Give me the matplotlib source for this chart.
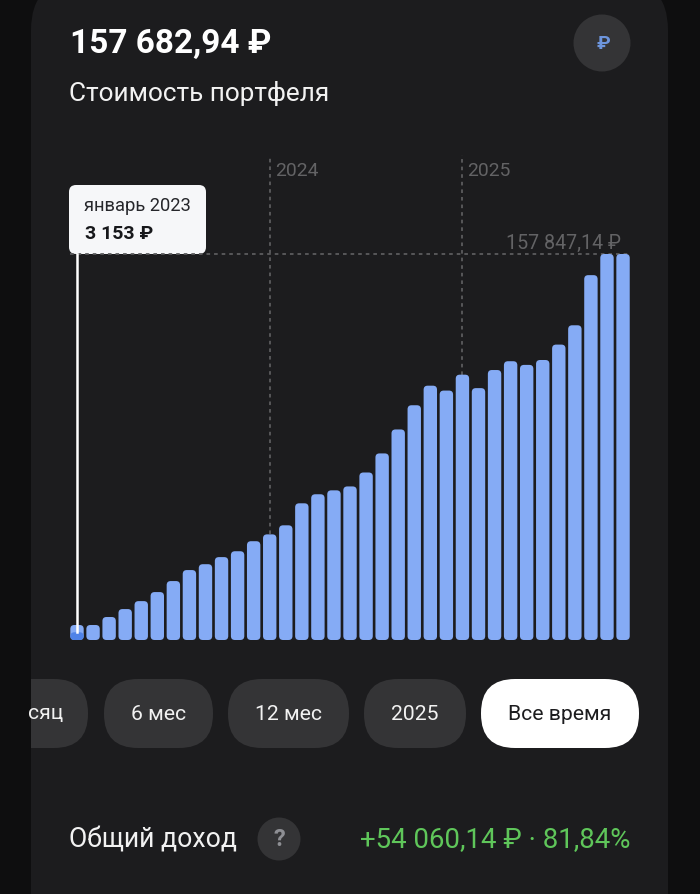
import matplotlib
matplotlib.use("Agg")
import matplotlib.pyplot as plt
from matplotlib.patches import FancyBboxPatch, Ellipse, Rectangle

plt.rcParams['font.family'] = ['Roboto', 'DejaVu Sans']

W, H = 700, 894

# month-end portfolio values, rubles (Jan 2023 .. Nov 2025)
values = [6130, 6130, 9400, 12650, 15900, 19600, 24100, 28600, 31000, 33900,
          36300, 40400, 43200, 46900, 55900, 59600, 61200, 62800,
          68500, 76300, 86100, 96000, 104000, 102000, 108500, 103000,
          110400, 114000, 112500, 114500, 120800, 128700, 149200, 157847, 157847]
selected_value = 3153
max_value = 157847
year_marks = [(12, "2024"), (24, "2025")]
periods = ["сяц", "6 мес", "12 мес", "2025", "Все время"]

BG = '#1c1c1e'
BAR = '#85abf5'
BAR_SEL = '#4f83e8'
GRID = '#5c5c5e'
MUTED = '#636365'
PILL = '#343436'

fig = plt.figure(figsize=(W/100, H/100), dpi=100, facecolor='#0e0e0f')

# UI layer in pixel coordinates
ui = fig.add_axes([0, 0, 1, 1])
ui.set_xlim(0, W); ui.set_ylim(H, 0); ui.axis('off')
ui.add_patch(FancyBboxPatch((31, -20), 637, H+100, boxstyle="round,pad=0,rounding_size=50",
                            fc=BG, ec='none'))

def T(x, y, s, size, color, weight='normal', ha='left', z=6):
    ui.text(x, y, s, fontsize=size, color=color, fontweight=weight, ha=ha, va='center', zorder=z)

T(70, 44, "157 682,94 ₽", 24, '#ffffff', 'bold')
T(69, 93, "Стоимость портфеля", 18.8, '#f2f2f2')
ui.add_patch(Ellipse((602, 43), 57, 57, fc=PILL, ec='none'))
T(603, 44, "₽", 14, '#6d95dd', 'bold', 'center')

# chart axes: x = month index, y = rubles
step = 16.06
x_left, x_right = 60, 640
y_bot, y_top = 640, 254
chart = fig.add_axes([x_left/W, 1-y_bot/H, (x_right-x_left)/W, (y_bot-y_top)/H])
chart.set_xlim((x_left-77)/step, (x_right-77)/step)
chart.set_ylim(0, max_value)
chart.axis('off')
chart.patch.set_alpha(0)

ypx = max_value/(y_bot-y_top)
bw = 13.4/step
aspect = ypx*step
def rbar(i, v, color, z=3):
    chart.add_patch(FancyBboxPatch((i-bw/2, 0), bw, v,
                    boxstyle=f"round,pad=0,rounding_size={4/step}",
                    mutation_aspect=aspect, fc=color, ec='none', zorder=z, clip_on=False))

for i, v in enumerate(values):
    rbar(i, v, BAR)
rbar(0, selected_value, BAR_SEL, 4)

# dashed guides
for idx, label in year_marks:
    chart.plot([idx, idx], [values[idx], max_value*1.2565], color=GRID, lw=1.3,
               ls=(0, (2, 2.2)), zorder=2, clip_on=False)
    ui.text(77+idx*step+5, 171, label, fontsize=13.9, color=MUTED, va='center', zorder=6)
chart.plot([-0.45, 34.45], [max_value, max_value], color=GRID, lw=1.3, ls=(0, (2, 2.2)),
           zorder=2, clip_on=False)
T(621, 243, "157 847,14 ₽", 14.1, MUTED, ha='right')

# selected marker line
chart.plot([0, 0], [selected_value, max_value], color='#ffffff', lw=1.8, zorder=5, clip_on=False)

# tooltip
ui.add_patch(FancyBboxPatch((69, 185), 137, 69, boxstyle="round,pad=0,rounding_size=7",
                            fc='#f6f7f9', ec='none', zorder=6))
T(84, 206, "январь 2023", 13.2, '#26272b', z=7)
T(85, 234, "3 153 ₽", 14, '#17181b', 'bold', z=7)

# period pills
pills = [(-30, 88), (104, 213), (228, 349), (364, 466)]
for (a, b), lab in zip(pills, periods[:4]):
    ui.add_patch(FancyBboxPatch((a, 679), b-a, 69, boxstyle="round,pad=0,rounding_size=34",
                                fc=PILL, ec='none', zorder=2))
ui.text(63, 714, periods[0], fontsize=15.2, color='#f2f2f2', ha='right', va='center', zorder=4)
for (a, b), lab in list(zip(pills, periods))[1:]:
    ui.text((a+b)/2, 714, lab, fontsize=15.2, color='#f2f2f2', ha='center', va='center', zorder=4)
ui.add_patch(FancyBboxPatch((481, 679), 158, 69, boxstyle="round,pad=0,rounding_size=34",
                            fc='#ffffff', ec='none', zorder=2))
ui.text(560, 714, periods[4], fontsize=15.2, color='#1c1c1e', ha='center', va='center', zorder=4)
ui.add_patch(Rectangle((0, 670), 31, 90, fc='#0e0e0f', ec='none', zorder=3))

# footer
T(69, 840, "Общий доход", 19.2, '#f2f2f2')
ui.add_patch(Ellipse((279, 839), 43, 43, fc=PILL, ec='none'))
T(279, 840, "?", 17, '#8e8f94', 'bold', 'center')
T(631, 840, "+54 060,14 ₽ · 81,84%", 19.9, '#5fc65a', ha='right')

fig.savefig('out.png', dpi=100, facecolor=fig.get_facecolor())
